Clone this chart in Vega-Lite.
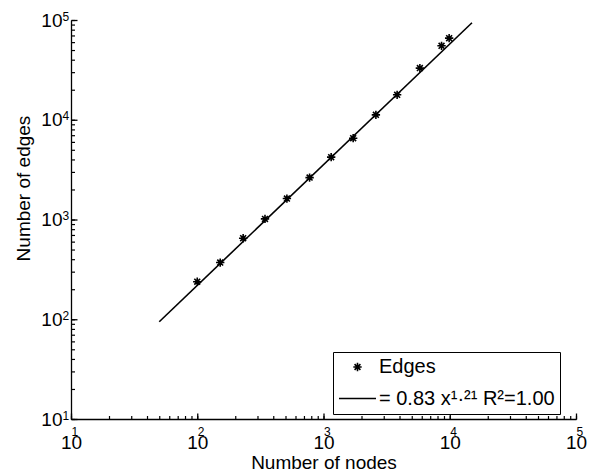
{
  "$schema": "https://vega.github.io/schema/vega-lite/v6.json",
  "width": 505,
  "height": 399,
  "autosize": "none",
  "padding": {"left": 71, "top": 20, "right": 14, "bottom": 55},
  "background": "white",
  "config": {
    "view": {"stroke": null},
    "font": "Liberation Sans",
    "axis": {
      "grid": false,
      "labelFont": "Liberation Sans",
      "labelColor": "black",
      "labelOverlap": false,
      "labelFlush": false,
      "titleFont": "Liberation Sans",
      "titleFontSize": 19,
      "titleFontWeight": "normal",
      "titleColor": "black"
    },
    "legend": {
      "title": null,
      "orient": "none",
      "legendX": 262,
      "legendY": 332,
      "strokeColor": "black",
      "fillColor": "white",
      "padding": 5,
      "cornerRadius": 0,
      "labelFont": "Liberation Sans",
      "labelFontSize": 20,
      "labelColor": "black",
      "labelOffset": 2,
      "labelLimit": 400,
      "symbolStrokeColor": "black",
      "symbolFillColor": "transparent",
      "symbolStrokeWidth": 1.6,
      "symbolOpacity": 1
    }
  },
  "datasets": {
    "edges": [
      {"nodes": 100, "edges": 238, "series": "Edges"},
      {"nodes": 152, "edges": 370, "series": "Edges"},
      {"nodes": 231, "edges": 649, "series": "Edges"},
      {"nodes": 344, "edges": 1014, "series": "Edges"},
      {"nodes": 513, "edges": 1621, "series": "Edges"},
      {"nodes": 776, "edges": 2632, "series": "Edges"},
      {"nodes": 1150, "edges": 4217, "series": "Edges"},
      {"nodes": 1718, "edges": 6535, "series": "Edges"},
      {"nodes": 2600, "edges": 11200, "series": "Edges"},
      {"nodes": 3830, "edges": 17780, "series": "Edges"},
      {"nodes": 5800, "edges": 32960, "series": "Edges"},
      {"nodes": 8610, "edges": 55100, "series": "Edges"},
      {"nodes": 9890, "edges": 65800, "series": "Edges"}
    ],
    "fit": [
      {"nodes": 50, "edges": 94.4},
      {"nodes": 15000, "edges": 93800}
    ]
  },
  "resolve": {"axis": {"x": "independent", "y": "independent"}},
  "layer": [
    {
      "data": {"name": "fit"},
      "mark": {"type": "line", "color": "black", "strokeWidth": 1.6},
      "encoding": {
        "x": {
          "field": "nodes",
          "type": "quantitative",
          "scale": {"type": "log", "domain": [10, 100000], "nice": false},
          "axis": {
            "orient": "bottom",
            "title": "Number of nodes",
            "values": [10, 100, 1000, 10000, 100000],
            "labelExpr": "'10'",
            "ticks": false,
            "domainColor": "black",
            "domainWidth": 1.3,
            "domainOpacity": 1,
            "labelFontSize": 19,
            "labelBaseline": "alphabetic",
            "labelPadding": 29,
            "labelDx": -2,
            "titleBaseline": "alphabetic",
            "titleY": 49
          }
        },
        "y": {
          "field": "edges",
          "type": "quantitative",
          "scale": {"type": "log", "domain": [10, 100000], "nice": false},
          "axis": {
            "orient": "left",
            "title": "Number of edges",
            "values": [10, 100, 1000, 10000, 100000],
            "labelExpr": "'10'",
            "ticks": false,
            "domainColor": "black",
            "domainWidth": 1.3,
            "domainOpacity": 1,
            "labelFontSize": 19,
            "labelPadding": 9,
            "titleBaseline": "alphabetic",
            "titleX": -42,
            "titleY": 168
          }
        }
      }
    },
    {
      "data": {"name": "edges"},
      "transform": [{"filter": "datum.nodes < 1000"}],
      "mark": {"type": "point", "filled": false, "stroke": "black", "strokeWidth": 1.6, "opacity": 1},
      "encoding": {
        "x": {
          "field": "nodes",
          "type": "quantitative",
          "axis": {
            "orient": "bottom",
            "title": null,
            "domain": false,
            "labels": false,
            "ticks": true,
            "tickRound": false,
            "tickCap": "butt",
            "tickColor": "#000000",
            "tickOpacity": 1,
            "tickWidth": 1.3,
            "values": [10, 100, 1000, 10000, 100000],
            "offset": -6,
            "tickSize": 6
          }
        },
        "y": {
          "field": "edges",
          "type": "quantitative",
          "axis": {
            "orient": "left",
            "title": null,
            "domain": false,
            "labels": false,
            "ticks": true,
            "tickRound": false,
            "tickCap": "butt",
            "tickColor": "#000000",
            "tickOpacity": 1,
            "tickWidth": 1.3,
            "values": [10, 100, 1000, 10000, 100000],
            "offset": -6,
            "tickSize": 6
          }
        },
        "shape": {
          "field": "series",
          "type": "nominal",
          "scale": {
            "domain": ["Edges", "= 0.83 x¹·²¹ R²=1.00"],
            "range": ["M0,-1L0,1M-1,0L1,0M-0.7,-0.7L0.7,0.7M-0.7,0.7L0.7,-0.7", "stroke"]
          }
        },
        "size": {
          "field": "series",
          "type": "nominal",
          "scale": {"domain": ["Edges", "= 0.83 x¹·²¹ R²=1.00"], "range": [70, 1369]}
        }
      }
    },
    {
      "data": {"name": "edges"},
      "transform": [{"filter": "datum.nodes >= 1000"}],
      "mark": {"type": "point", "filled": false, "stroke": "black", "strokeWidth": 1.6, "opacity": 1},
      "encoding": {
        "x": {
          "field": "nodes",
          "type": "quantitative",
          "axis": {
            "orient": "bottom",
            "title": null,
            "domain": false,
            "ticks": true,
            "tickRound": false,
            "tickCap": "butt",
            "tickColor": "#000000",
            "tickOpacity": 1,
            "tickWidth": 1.2,
            "values": [10, 20, 30, 40, 50, 60, 70, 80, 90, 100, 200, 300, 400, 500, 600, 700, 800, 900, 1000, 2000, 3000, 4000, 5000, 6000, 7000, 8000, 9000, 10000, 20000, 30000, 40000, 50000, 60000, 70000, 80000, 90000, 100000],
            "labelExpr": "abs(log(datum.value)/LN10 - round(log(datum.value)/LN10)) < 1e-6 ? '' + round(log(datum.value)/LN10) : ''",
            "offset": -3.5,
            "tickSize": 3.5,
            "labelFontSize": 12,
            "labelAlign": "left",
            "labelBaseline": "alphabetic",
            "labelPadding": 16,
            "labelDx": 9
          }
        },
        "y": {
          "field": "edges",
          "type": "quantitative",
          "axis": {
            "orient": "left",
            "title": null,
            "domain": false,
            "ticks": true,
            "tickRound": false,
            "tickCap": "butt",
            "tickColor": "#000000",
            "tickOpacity": 1,
            "tickWidth": 1.2,
            "values": [10, 20, 30, 40, 50, 60, 70, 80, 90, 100, 200, 300, 400, 500, 600, 700, 800, 900, 1000, 2000, 3000, 4000, 5000, 6000, 7000, 8000, 9000, 10000, 20000, 30000, 40000, 50000, 60000, 70000, 80000, 90000, 100000],
            "labelExpr": "abs(log(datum.value)/LN10 - round(log(datum.value)/LN10)) < 1e-6 ? '' + round(log(datum.value)/LN10) : ''",
            "offset": -3.5,
            "tickSize": 3.5,
            "labelFontSize": 12,
            "labelAlign": "left",
            "labelBaseline": "alphabetic",
            "labelPadding": 9,
            "labelDy": -3
          }
        },
        "shape": {
          "field": "series",
          "type": "nominal",
          "scale": {
            "domain": ["Edges", "= 0.83 x¹·²¹ R²=1.00"],
            "range": ["M0,-1L0,1M-1,0L1,0M-0.7,-0.7L0.7,0.7M-0.7,0.7L0.7,-0.7", "stroke"]
          }
        },
        "size": {
          "field": "series",
          "type": "nominal",
          "scale": {"domain": ["Edges", "= 0.83 x¹·²¹ R²=1.00"], "range": [70, 1369]}
        }
      }
    }
  ]
}
